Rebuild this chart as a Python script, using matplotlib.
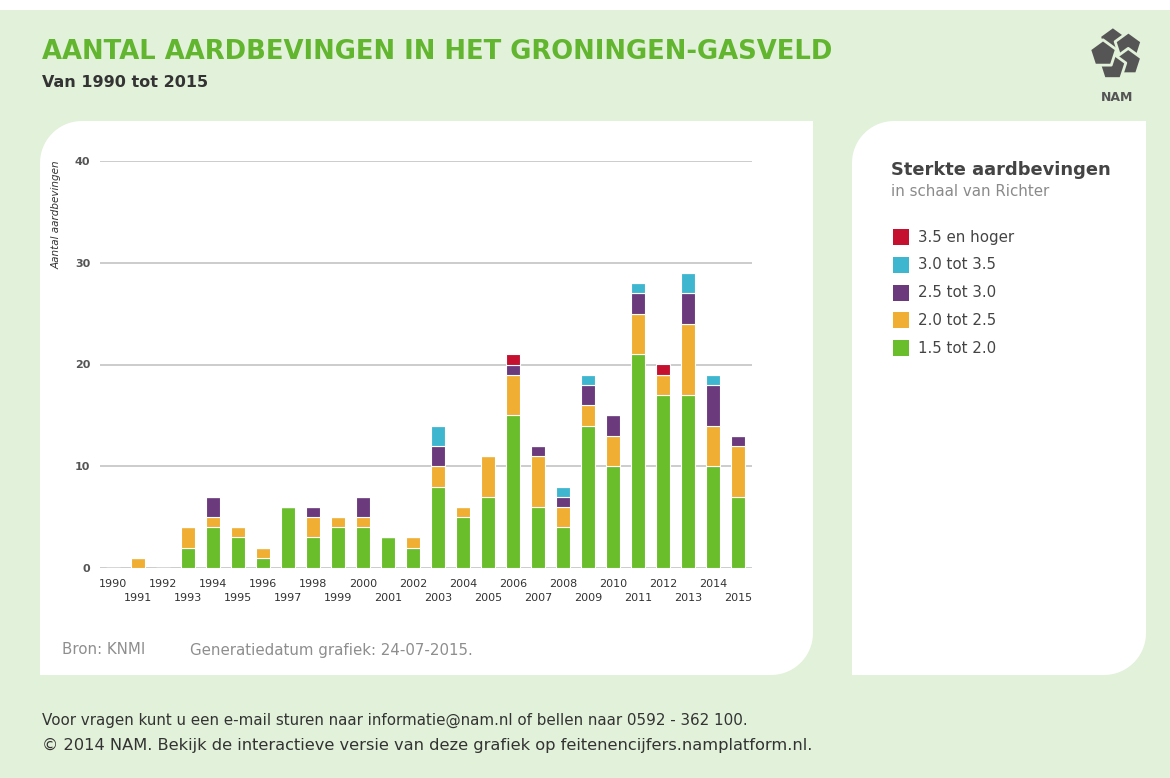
import numpy as np
import matplotlib
matplotlib.use("Agg")
import matplotlib.pyplot as plt
from matplotlib.patches import Polygon, Rectangle

# data
years = list(range(1990, 2016))
m15_20 = [0, 0, 0, 2, 4, 3, 1, 6, 3, 4, 4, 3, 2, 8, 5, 7, 15, 6, 4, 14, 10, 21, 17, 17, 10, 7]
m20_25 = [0, 1, 0, 2, 1, 1, 1, 0, 2, 1, 1, 0, 1, 2, 1, 4, 4, 5, 2, 2, 3, 4, 2, 7, 4, 5]
m25_30 = [0, 0, 0, 0, 2, 0, 0, 0, 1, 0, 2, 0, 0, 2, 0, 0, 1, 1, 1, 2, 2, 2, 0, 3, 4, 1]
m30_35 = [0, 0, 0, 0, 0, 0, 0, 0, 0, 0, 0, 0, 0, 2, 0, 0, 0, 0, 1, 1, 0, 1, 0, 2, 1, 0]
m35_up = [0, 0, 0, 0, 0, 0, 0, 0, 0, 0, 0, 0, 0, 0, 0, 0, 1, 0, 0, 0, 0, 0, 1, 0, 0, 0]

series = [m15_20, m20_25, m25_30, m30_35, m35_up]
labels = ["1.5 tot 2.0", "2.0 tot 2.5", "2.5 tot 3.0", "3.0 tot 3.5", "3.5 en hoger"]
colors = ["#6abd2b", "#f0ae33", "#6b3a7d", "#3fb6cf", "#c5102f"]

W, H = 1170, 778
BG = "#e2f1d9"

fig = plt.figure(figsize=(W / 100, H / 100), dpi=100)
fig.patch.set_facecolor(BG)

# background drawing layer in pixel coordinates
bg = fig.add_axes([0, 0, 1, 1])
bg.set_xlim(0, W)
bg.set_ylim(H, 0)
bg.axis("off")
bg.set_zorder(0)

bg.add_patch(Rectangle((0, 0), W, 10, color="white", lw=0))


def leaf(x0, y0, x1, y1, r):
    # rounded top-left and bottom-right corners
    t = np.linspace(0, np.pi / 2, 20)
    pts = []
    pts += list(zip(x0 + r - r * np.cos(t), y0 + r - r * np.sin(t)))
    pts += [(x1, y0), (x1, y1 - r)]
    pts += list(zip(x1 - r + r * np.cos(t), y1 - r + r * np.sin(t)))
    pts += [(x0, y1)]
    return Polygon(pts, closed=True, color="white", lw=0)


bg.add_patch(leaf(40, 121, 813, 675, 42))
bg.add_patch(leaf(852, 121, 1146, 675, 42))

bg.text(42, 52, "AANTAL AARDBEVINGEN IN HET GRONINGEN-GASVELD", fontsize=18.6,
        fontweight="bold", color="#62b52e", va="center", ha="left")
bg.text(42, 82, "Van 1990 tot 2015", fontsize=11.5, fontweight="bold",
        color="#333333", va="center", ha="left")

# NAM logo, rough pinwheel of five pentagons
cx, cy, R = 1117, 54, 28
for k in range(5):
    a = np.deg2rad(-90 + 72 * k)
    pc = (cx + 0.5 * R * np.cos(a - 0.3), cy + 0.5 * R * np.sin(a - 0.3))
    pr = 0.5 * R
    p = [(pc[0] + pr * np.cos(a + j * 2 * np.pi / 5),
          pc[1] + pr * np.sin(a + j * 2 * np.pi / 5)) for j in range(5)]
    bg.add_patch(Polygon(p, closed=True, fc="#555555", ec=BG, lw=2, joinstyle="round"))
bg.text(cx, 97, "NAM", fontsize=9, fontweight="bold", color="#555555",
        ha="center", va="center")

bg.text(57, 160, "Aantal aardbevingen", fontsize=7.5, style="italic",
        color="#333333", rotation=90, ha="center", va="top")
bg.text(62, 650, "Bron: KNMI", fontsize=10.8, color="#8e8e8e", va="center")
bg.text(190, 650, "Generatiedatum grafiek: 24-07-2015.", fontsize=10.8,
        color="#8e8e8e", va="center")

bg.text(42, 720, "Voor vragen kunt u een e-mail sturen naar informatie@nam.nl "
        "of bellen naar 0592 - 362 100.", fontsize=10.9, color="#333333", va="center")
bg.text(42, 745, "\u00a9 2014 NAM. Bekijk de interactieve versie van deze grafiek "
        "op feitenencijfers.namplatform.nl.", fontsize=11.7, color="#333333", va="center")

# legend panel
bg.text(891, 170, "Sterkte aardbevingen", fontsize=12.9, fontweight="bold",
        color="#444444", va="center")
bg.text(891, 191, "in schaal van Richter", fontsize=10.8, color="#8a8a8a", va="center")
for i, (lab, col) in enumerate(zip(labels[::-1], colors[::-1])):
    yy = 237 + i * 27.8
    bg.add_patch(Rectangle((893, yy - 8), 16, 16, color=col, lw=0))
    bg.text(918, yy, lab, fontsize=10.8, color="#444444", va="center")

# chart
ax = fig.add_axes([100 / W, 1 - 568 / H, 652 / W, 407 / H])
ax.set_zorder(1)
ax.patch.set_visible(False)

bottom = np.zeros(len(years))
for vals, col in zip(series, colors):
    ax.bar(years, vals, bottom=bottom, width=0.6, color=col,
           edgecolor="white", linewidth=0.8, zorder=3)
    bottom += np.array(vals)

ax.set_xlim(1989.48, 2015.56)
ax.set_ylim(0, 40)
ax.set_yticks([0, 10, 20, 30, 40])
ax.grid(axis="y", color="#c4c4c4", linewidth=1.2, zorder=0)
for s in ax.spines.values():
    s.set_visible(False)

even = [y for y in years if y % 2 == 0]
odd = [y for y in years if y % 2 == 1]
ax.set_xticks(even, [str(y) for y in even])
ax.set_xticks(odd, [str(y) for y in odd], minor=True)
ax.tick_params(axis="x", which="both", length=0, labelsize=8, labelcolor="#333333")
ax.tick_params(axis="x", which="major", pad=8)
ax.tick_params(axis="x", which="minor", pad=18)
ax.tick_params(axis="y", length=0, pad=7, labelsize=8, labelcolor="#555555")
for t in ax.get_yticklabels():
    t.set_fontweight("bold")

fig.savefig("out.png", dpi=100, facecolor=BG)
